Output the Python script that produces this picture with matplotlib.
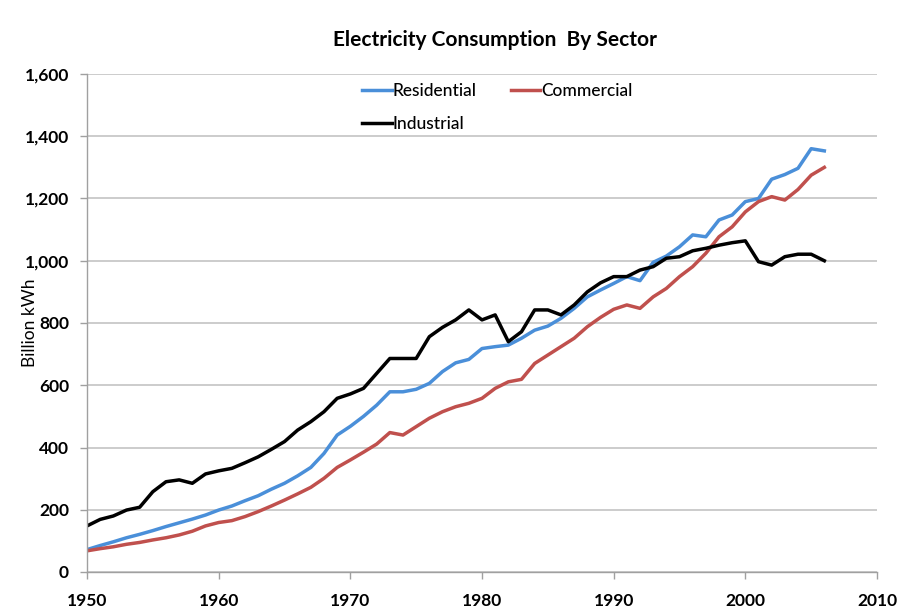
"""Electricity consumption by sector, 1950-2006 (billion kWh)."""
import matplotlib
matplotlib.use("Agg")
import matplotlib.pyplot as plt
from matplotlib.ticker import FuncFormatter

years = list(range(1950, 2007))

residential = [
    72, 85, 97, 110, 121, 133, 146, 158, 170, 183,
    199, 212, 229, 245, 266, 285, 309, 336, 381, 440,
    468, 500, 536, 579, 579, 587, 606, 644, 672, 683,
    718, 724, 729, 751, 777, 790, 815, 847, 884, 906,
    927, 949, 936, 995, 1015, 1045, 1083, 1077, 1131, 1147,
    1190, 1200, 1262, 1277, 1297, 1360, 1353,
]
commercial = [
    68, 75, 81, 89, 95, 103, 110, 119, 131, 148,
    159, 165, 178, 194, 212, 231, 251, 272, 301, 336,
    360, 385, 411, 448, 440, 467, 494, 515, 531, 542,
    558, 590, 611, 619, 670, 697, 724, 751, 788, 818,
    844, 858, 847, 884, 911, 949, 981, 1024, 1077, 1109,
    1157, 1190, 1206, 1195, 1229, 1275, 1300,
]
industrial = [
    148, 169, 180, 199, 208, 258, 290, 296, 285, 315,
    325, 333, 351, 370, 394, 419, 456, 483, 515, 558,
    572, 590, 638, 686, 686, 686, 756, 786, 810, 842,
    810, 826, 740, 772, 842, 842, 826, 858, 900, 929,
    949, 949, 970, 981, 1008, 1013, 1032, 1040, 1050, 1058,
    1064, 997, 986, 1013, 1021, 1021, 1000,
]

plt.rcParams["font.family"] = ["Lato", "DejaVu Sans"]

fig = plt.figure(figsize=(8.99, 6.15), dpi=100)
ax = fig.add_axes([87 / 899, 1 - 572 / 615, (877 - 87) / 899, (572 - 74) / 615])

h_res, = ax.plot(years, residential, color="#4a8fd9", linewidth=2.5, label="Residential")
h_com, = ax.plot(years, commercial, color="#c0504d", linewidth=2.5, label="Commercial")
h_ind, = ax.plot(years, industrial, color="black", linewidth=2.5, label="Industrial")

ax.set_xlim(1950, 2010)
ax.set_ylim(0, 1600)
ax.set_xticks(range(1950, 2011, 10))
ax.set_yticks(range(0, 1601, 200))
ax.yaxis.set_major_formatter(FuncFormatter(lambda v, _: f"{int(v):,}"))
ax.tick_params(axis="both", labelsize=12.5, color="#a0a0a0", length=5, width=1)
for lab in ax.get_xticklabels() + ax.get_yticklabels():
    lab.set_fontweight("bold")
ax.tick_params(axis="x", pad=10)
ax.tick_params(axis="y", pad=8)

ax.grid(axis="y", color="#c8c8c8", linewidth=1.3)
ax.set_axisbelow(True)
for side in ("top", "right"):
    ax.spines[side].set_visible(False)
for side in ("left", "bottom"):
    ax.spines[side].set_color("#a0a0a0")
    ax.spines[side].set_linewidth(1)

ax.set_ylabel("Billion kWh", fontsize=12.5)
ax.yaxis.set_label_coords(-0.062, 0.5)

fig.text(495 / 899, 1 - 40 / 615, "Electricity Consumption  By Sector",
         ha="center", va="center", fontsize=15, fontweight="bold")

# order so that rows read Residential, Commercial / Industrial
fig.legend([h_res, h_ind, h_com], ["Residential", "Industrial", "Commercial"],
           loc="upper left", bbox_to_anchor=(362 / 899, 1 - 83 / 615), ncol=2,
           frameon=False, fontsize=12.5, handlelength=1.7, handletextpad=0.08,
           columnspacing=1.95, labelspacing=0.98, borderpad=0, borderaxespad=0,
           prop={"size": 12.5, "weight": "medium"})

fig.savefig("out.png", dpi=100)
